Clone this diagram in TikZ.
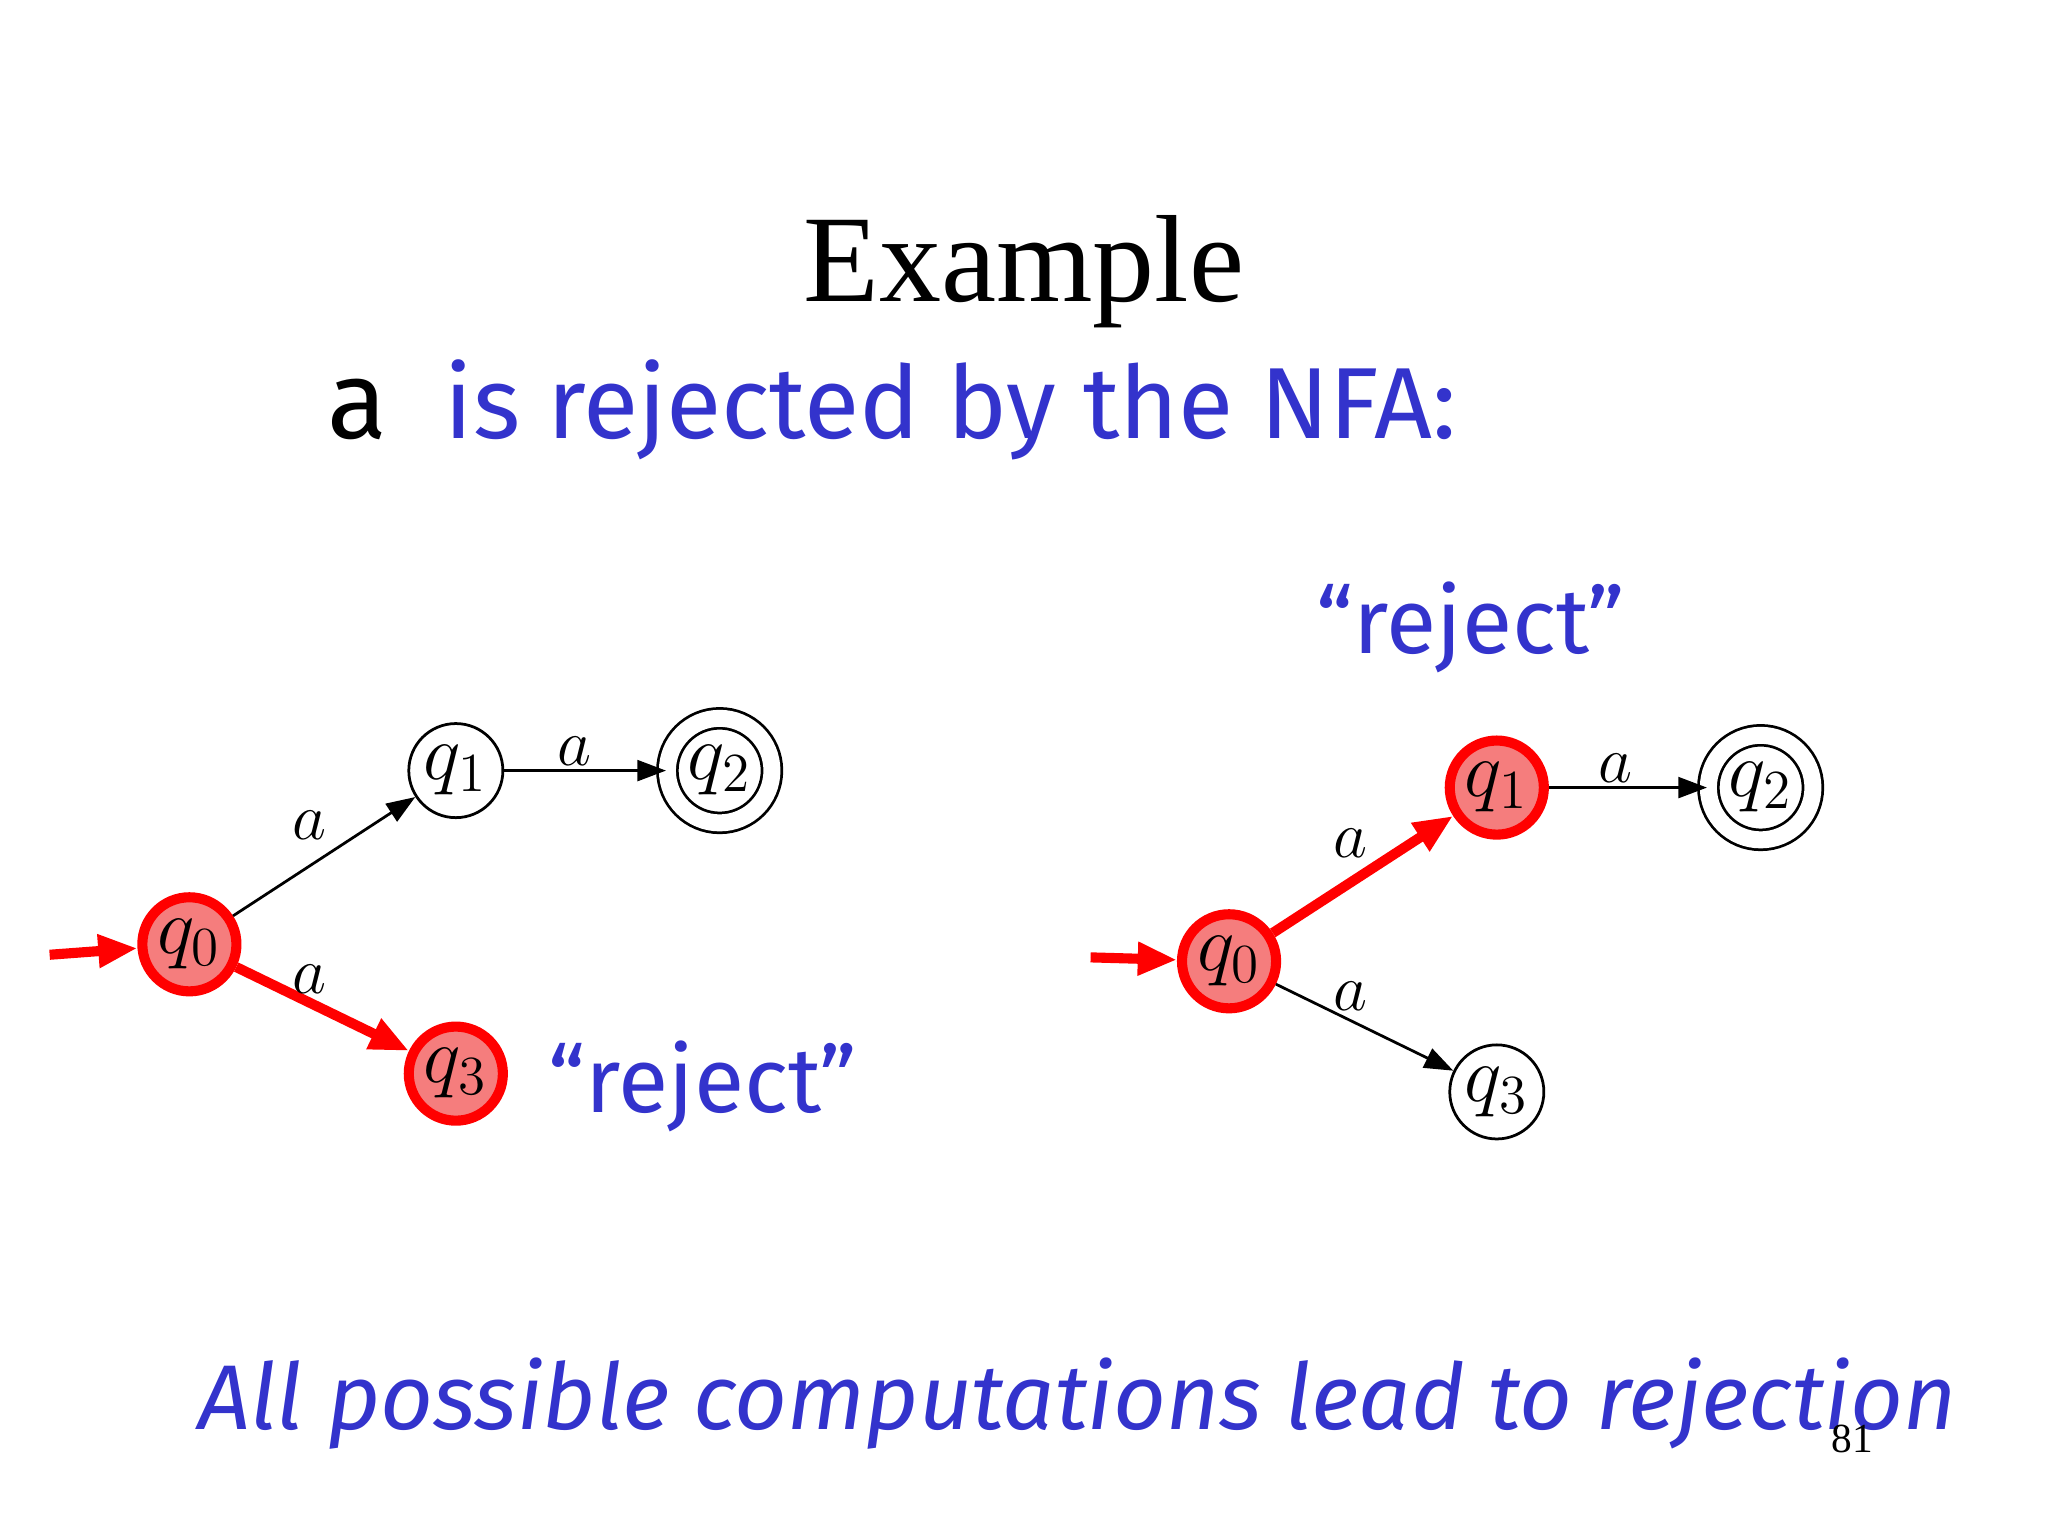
\documentclass[tikz,border=0pt]{standalone}
\usepackage{fontspec}
\setmainfont{Liberation Serif}
\newfontfamily\handfont{Fira Sans}
\usetikzlibrary{arrows.meta}
\definecolor{txtblue}{RGB}{51,51,204}
\definecolor{redfill}{RGB}{245,125,125}
\tikzset{
 st/.style={circle,draw,line width=0.6pt,inner sep=0pt,minimum size=0.72cm,font=\fontsize{17}{20}\selectfont},
 act/.style={st,draw=red,fill=redfill,line width=2.2pt,minimum size=0.72cm},
 acc/.style={st,double,double distance=0.13cm,minimum size=0.8cm},
 ed/.style={-{Triangle[length=0.22cm,width=0.16cm]},line width=0.6pt},
 red/.style={-{Triangle[length=0.3cm,width=0.24cm]},line width=2.2pt,draw=red,fill=red},
 lab/.style={font=\fontsize{15}{18}\selectfont},
 blue/.style={text=txtblue,font=\handfont\fontsize{20}{24}\selectfont}
}
\begin{document}
\begin{tikzpicture}[x=0.01cm,y=-0.01cm]
\useasboundingbox (0,0) rectangle (1568,1176);
\node (title) at (784,208) {\fontsize{27}{32}\selectfont Example};
\node[anchor=base west,font=\handfont\fontsize{24}{28}\selectfont] (a) at (238,336) {a};
\node[blue,anchor=base west,font=\handfont\fontsize{22}{26}\selectfont] (rej) at (328,336) {is rejected by the NFA:};
% left
\node[act] (l0) at (145,723) {$q_0$};
\node[st] (l1) at (349,590) {$q_1$};
\node[acc] (l2) at (551,590) {$q_2$};
\node[act] (l3) at (349,822) {$q_3$};
\coordinate (ls) at (38,731);
\draw[red] (ls) -- (l0);
\draw[ed] (l0) -- (l1);
\draw[ed] (l1) -- (l2);
\draw[red] (l0) -- (l3);
\node[lab] at (237,632) {$a$};
\node[lab] at (440,575) {$a$};
\node[lab] at (237,750) {$a$};
\node[blue] (lr) at (538,832) {“reject”};
% right
\node[act] (r0) at (941,736) {$q_0$};
\node[act] (r1) at (1146,603) {$q_1$};
\node[acc] (r2) at (1348,603) {$q_2$};
\node[st] (r3) at (1146,836) {$q_3$};
\coordinate (rs) at (835,733);
\draw[red] (rs) -- (r0);
\draw[red] (r0) -- (r1);
\draw[ed] (r1) -- (r2);
\draw[ed] (r0) -- (r3);
\node[lab] at (1034,646) {$a$};
\node[lab] at (1237,588) {$a$};
\node[lab] at (1034,763) {$a$};
\node[blue] (rr) at (1126,480) {“reject”};
\node[blue,font=\handfont\itshape\fontsize{20}{24}\selectfont] (bot) at (825,1075) {All possible computations lead to rejection};
\node[font=\fontsize{9}{10}\selectfont] (pg) at (1418,1102) {81};
\end{tikzpicture}
\end{document}
